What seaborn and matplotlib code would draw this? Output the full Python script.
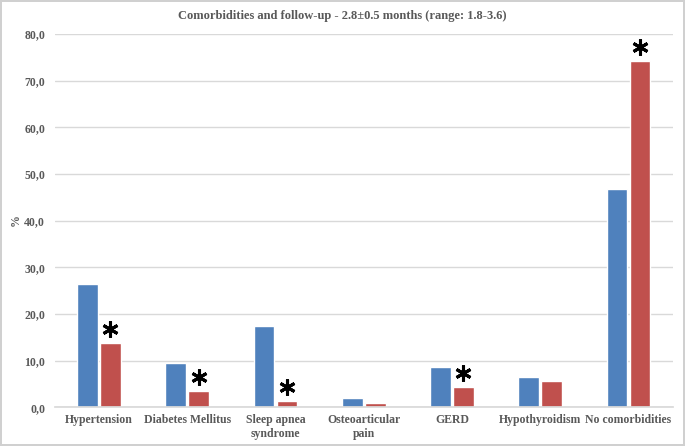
import matplotlib
matplotlib.use("Agg")
import matplotlib.pyplot as plt
import seaborn as sns
import pandas as pd
from matplotlib.ticker import FuncFormatter

categories = ["Hypertension", "Diabetes Mellitus", "Sleep apnea\nsyndrome",
              "Osteoarticular\npain", "GERD", "Hypothyroidism", "No comorbidities"]
baseline = [26.4, 9.4, 17.4, 1.9, 8.6, 6.4, 46.8]
followup = [13.7, 3.4, 1.3, 0.9, 4.3, 5.6, 74.2]
significant = [True, True, True, False, True, False, True]
groups = ["Baseline", "Follow-up"]

df = pd.DataFrame({
    "category": categories * 2,
    "value": baseline + followup,
    "group": [groups[0]] * len(categories) + [groups[1]] * len(categories),
})

sns.set_theme(style="white")
plt.rcParams["font.family"] = ["Liberation Serif", "DejaVu Serif"]
plt.rcParams["font.weight"] = "bold"

fig = plt.figure(figsize=(6.85, 4.46), dpi=100)
fig.patch.set_edgecolor("#d0d0d0")
fig.patch.set_linewidth(1.5)
ax = fig.add_axes([0.080, 0.087, 0.902, 0.837])

sns.barplot(data=df, x="category", y="value", hue="group",
            palette=["#4F81BD", "#C0504D"], width=0.52, gap=0.1,
            legend=False, ax=ax, saturation=1)

# asterisks above the significant follow-up bars
red_bars = ax.patches[len(categories):2 * len(categories)]
for bar, sig in zip(red_bars, significant):
    if sig:
        ax.plot(bar.get_x() + bar.get_width() / 2, bar.get_height() + 3.0,
                marker=(6, 2, 0), markersize=11.5, markeredgewidth=2.2,
                color="black", clip_on=False)

ax.set_ylim(0, 80)
ax.set_yticks(range(0, 81, 10))
ax.yaxis.set_major_formatter(FuncFormatter(lambda v, p: f"{v:.1f}".replace(".", ",")))
ax.yaxis.grid(True, color="#d9d9d9", linewidth=1)
ax.set_axisbelow(True)
for s in ["top", "right", "left"]:
    ax.spines[s].set_visible(False)
ax.spines["bottom"].set_color("#d9d9d9")
ax.tick_params(axis="both", colors="#595959", labelsize=8.5, length=0)
ax.tick_params(axis="y", pad=7)
ax.tick_params(axis="x", pad=5)
for lbl in ax.get_xticklabels() + ax.get_yticklabels():
    lbl.set_fontweight("bold")
ax.set_xlabel("")
ax.set_ylabel("%", color="#595959", fontsize=8.5, fontweight="bold", labelpad=2)
ax.set_xlim(-0.5, len(categories) - 0.5)

fig.suptitle("Comorbidities and follow-up - 2.8±0.5 months (range: 1.8-3.6)",
             y=0.977, fontsize=9, fontweight="bold", color="#595959")

fig.savefig("out.png", dpi=100)
